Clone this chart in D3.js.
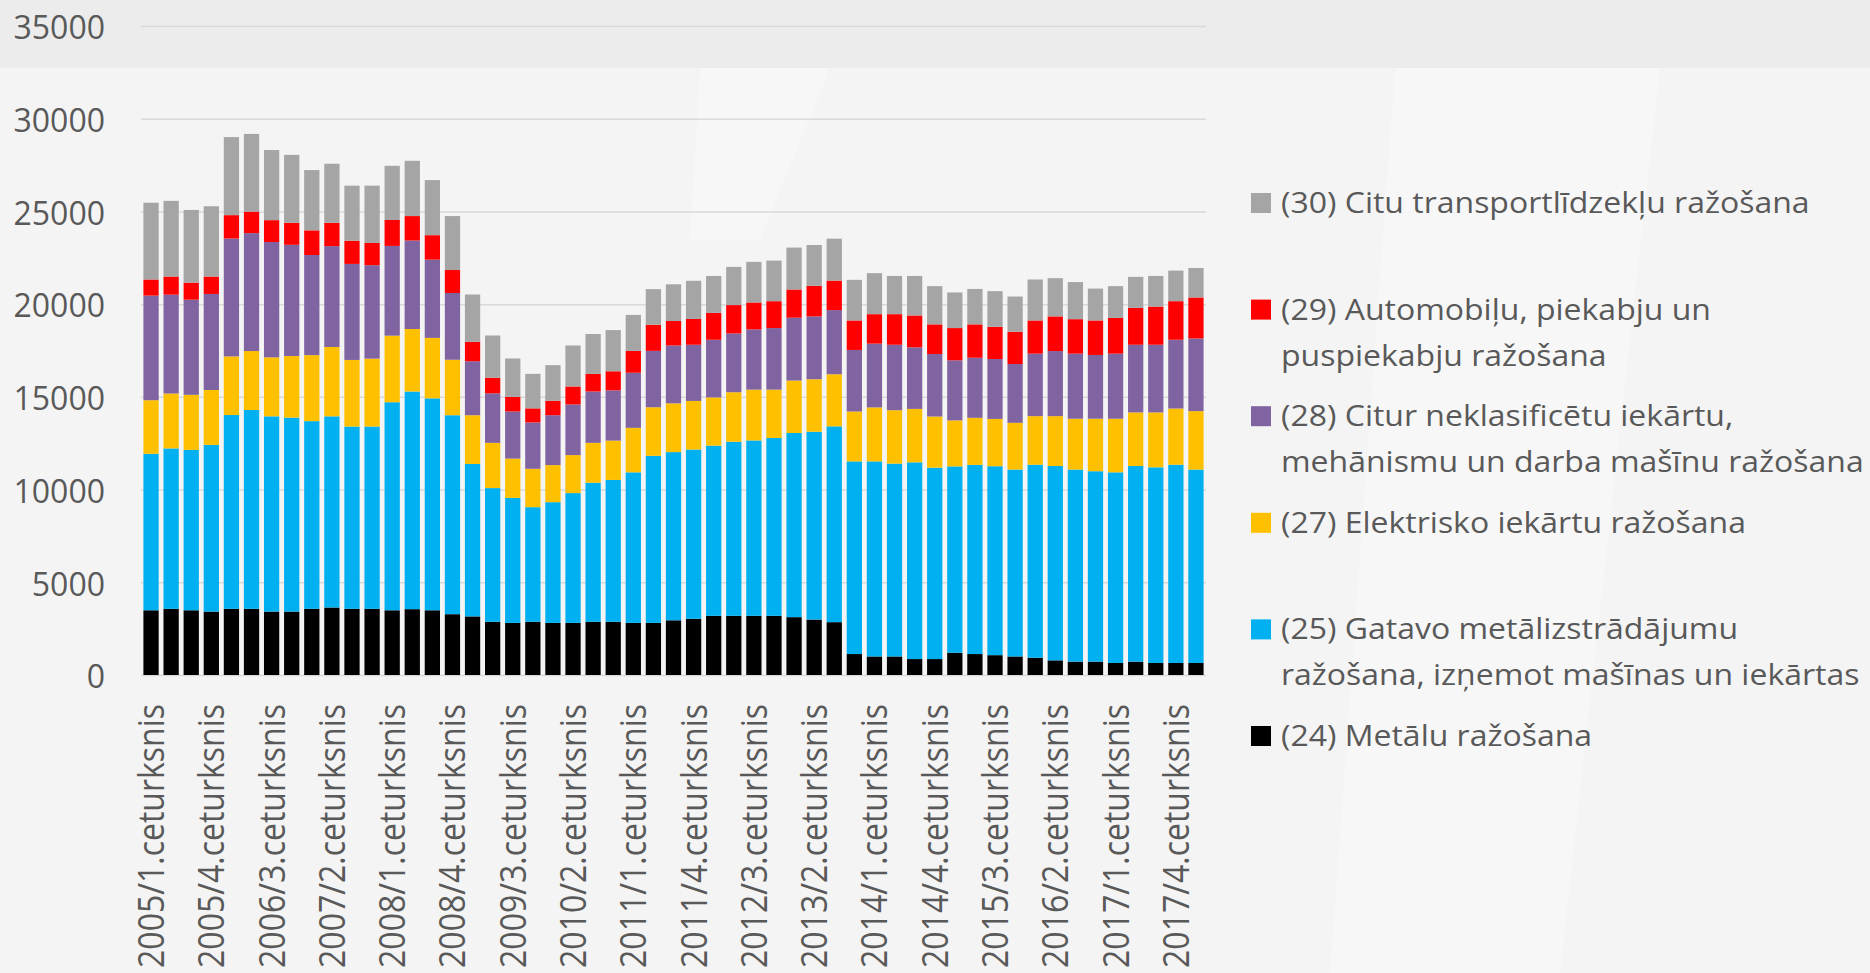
<!DOCTYPE html>
<html>
<head>
<meta charset="utf-8">
<script src="https://cdn.jsdelivr.net/npm/d3@7"></script>
<style>
  body { margin: 0; background: #f4f4f4; }
  svg { display: block; font-family: "Open Sans", sans-serif; }
</style>
</head>
<body>
<div id="chart-area"></div>
<script>

// Data (thousands, bottom segment first)

let quarters = [
  "2005/1","2005/2","2005/3","2005/4","2006/1","2006/2","2006/3","2006/4",
  "2007/1","2007/2","2007/3","2007/4","2008/1","2008/2","2008/3","2008/4",
  "2009/1","2009/2","2009/3","2009/4","2010/1","2010/2","2010/3","2010/4",
  "2011/1","2011/2","2011/3","2011/4","2012/1","2012/2","2012/3","2012/4",
  "2013/1","2013/2","2013/3","2013/4","2014/1","2014/2","2014/3","2014/4",
  "2015/1","2015/2","2015/3","2015/4","2016/1","2016/2","2016/3","2016/4",
  "2017/1","2017/2","2017/3","2017/4","2018/1"
];

let metals = [3490,3570,3490,3420,3570,3570,3420,3420,3570,3640,3570,3570,
  3490,3550,3490,3280,3160,2870,2810,2870,2810,2810,2870,2870,2810,2810,2950,3030,
  3190,3190,3190,3190,3120,2990,2850,1130,1000,1000,860,860,1200,1130,1070,1000,
  930,790,720,720,650,720,650,650,650];

let fabricated = [8440,8650,8650,8990,10450,10720,10530,10460,10120,10310,9830,9830,
  11220,11740,11430,10730,8220,7210,6740,6180,6510,7000,7500,7650,8120,9010,9070,9130,
  9180,9390,9460,9590,9930,10130,10560,10390,10520,10400,10610,10320,10050,10200,10190,10080,
  10410,10480,10360,10270,10280,10550,10550,10690,10430];

let electrical = [2890,2960,2970,2960,3160,3180,3180,3320,3560,3740,3590,3660,
  3590,3370,3260,2990,2630,2440,2120,2070,2000,2050,2150,2120,2400,2620,2630,2620,
  2600,2670,2740,2610,2830,2830,2810,2690,2910,2880,2880,2760,2480,2540,2550,2520,
  2620,2690,2740,2830,2890,2890,2960,3030,3150];

let machinery = [5640,5330,5130,5180,6360,6360,6220,6000,5400,5440,5180,5040,
  4840,4770,4220,3600,2910,2670,2540,2500,2690,2730,2770,2710,2970,3040,3120,3030,
  3110,3170,3250,3320,3390,3390,3460,3320,3440,3530,3320,3370,3240,3240,3230,3170,
  3370,3510,3510,3440,3510,3650,3650,3710,3920];

let motor = [870,980,920,940,1260,1160,1180,1190,1330,1260,1250,1200,
  1400,1320,1320,1240,1050,840,790,760,780,970,950,1030,1180,1410,1320,1390,
  1450,1530,1450,1450,1520,1650,1590,1590,1590,1650,1720,1600,1740,1800,1740,1740,
  1790,1870,1860,1860,1930,1990,2060,2080,2210];

let transport = [4140,4080,3920,3790,4210,4190,3780,3660,3250,3180,2970,3090,
  2920,2980,2970,2910,2550,2280,2070,1860,1920,2210,2150,2220,1940,1920,1980,2060,
  1990,2060,2190,2190,2260,2200,2260,2190,2210,2060,2130,2060,1920,1910,1920,1900,
  2210,2060,2000,1720,1710,1670,1650,1650,1590];

let seriesKeys = ["s24", "s25", "s27", "s28", "s29", "s30"];
let seriesColors = ["#000000", "#00b0f0", "#ffc000", "#8064a2", "#ff0000", "#a5a5a5"];
let seriesLabels = [
  ["(24) Metālu ražošana"],
  ["(25) Gatavo metālizstrādājumu", "ražošana, izņemot mašīnas un iekārtas"],
  ["(27) Elektrisko iekārtu ražošana"],
  ["(28) Citur neklasificētu iekārtu,", "mehānismu un darba mašīnu ražošana"],
  ["(29) Automobiļu, piekabju un", "puspiekabju ražošana"],
  ["(30) Citu transportlīdzekļu ražošana"]
];

let yTicks = [0, 5000, 10000, 15000, 20000, 25000, 30000, 35000];

// table for d3.stack
let table = quarters.map(function(q, i) {
  return {q: q, s24: metals[i], s25: fabricated[i], s27: electrical[i],
          s28: machinery[i], s29: motor[i], s30: transport[i]};
});

// SVG drawing area

let W = 1870, H = 973;
let plotLeft = 141, plotRight = 1206, plotTop = 26, plotBottom = 675;

let svg = d3.select("#chart-area").append("svg")
    .attr("width", W)
    .attr("height", H);

// background
svg.append("rect").attr("width", W).attr("height", H).attr("fill", "#f4f4f4");
svg.append("rect").attr("width", W).attr("height", 68).attr("fill", "#ececec");
let stripes = [
  [[1395,68],[1660,68],[1560,973],[1330,973]],
  [[700,68],[830,68],[760,240],[690,240]]
];
svg.selectAll(".stripe").data(stripes).enter().append("polygon")
    .attr("class", "stripe")
    .attr("points", d => d.map(p => p.join(",")).join(" "))
    .attr("fill", "#ffffff")
    .attr("opacity", 0.3);

// Scales

let x = d3.scaleBand()
    .domain(quarters)
    .range([plotLeft, plotRight])
    .paddingInner(0.24)
    .paddingOuter(0.12);

let y = d3.scaleLinear()
    .domain([0, 35000])
    .range([plotBottom, plotTop]);

// Axes

let yAxis = d3.axisLeft(y)
    .tickValues(yTicks)
    .tickSizeInner(-(plotRight - plotLeft))
    .tickSizeOuter(0)
    .tickPadding(36)
    .tickFormat(d3.format("d"));

let yAxisG = svg.append("g")
    .attr("class", "y-axis axis")
    .attr("transform", "translate(" + plotLeft + ",0)")
    .call(yAxis);

yAxisG.select(".domain").remove();
yAxisG.selectAll("line").attr("stroke", "#d9d9d9").attr("stroke-width", 1.5);
yAxisG.selectAll("text")
    .attr("fill", "#595959")
    .attr("dy", "0.4em")
    .style("font-size", "32px")
    .style("font-family", "'Open Sans', sans-serif");

// Bars

let stack = d3.stack().keys(seriesKeys);
let layers = stack(table);

svg.selectAll(".layer")
    .data(layers)
  .enter().append("g")
    .attr("class", "layer")
    .attr("fill", (d, i) => seriesColors[i])
  .selectAll("rect")
    .data(d => d)
  .enter().append("rect")
    .attr("x", d => x(d.data.q))
    .attr("width", x.bandwidth())
    .attr("y", d => y(d[1]))
    .attr("height", d => y(d[0]) - y(d[1]));

// x labels, every third quarter

let xAxis = d3.axisBottom(x)
    .tickValues(quarters.filter((q, i) => i % 3 === 0))
    .tickSize(0)
    .tickFormat(q => q + ".ceturksnis");

let xAxisG = svg.append("g")
    .attr("class", "x-axis axis")
    .attr("transform", "translate(0," + plotBottom + ")")
    .call(xAxis);

xAxisG.select(".domain").remove();
xAxisG.selectAll(".tick text")
    .attr("fill", "#595959")
    .style("font-size", "32px")
    .style("font-family", "'Open Sans', sans-serif")
    .attr("text-anchor", "end")
    .attr("x", 0)
    .attr("y", 0)
    .attr("dy", "0.36em")
    .attr("transform", "translate(0,29) scale(1.13,1) rotate(-90)");

// Legend (top item first)

let legendOrder = [5, 4, 3, 2, 1, 0];
let legend = svg.append("g").attr("class", "legend");

legendOrder.forEach(function(s, i) {
  let cy = 203 + 106.6 * i;
  legend.append("rect")
      .attr("x", 1251)
      .attr("y", cy - 10)
      .attr("width", 20)
      .attr("height", 20)
      .attr("fill", seriesColors[s]);
  let t = legend.append("text")
      .attr("transform", "translate(1281," + cy + ") scale(1.115,1)")
      .attr("fill", "#595959")
      .style("font-size", "28.7px");
  seriesLabels[s].forEach(function(line, j) {
    t.append("tspan")
        .attr("x", 0)
        .attr("y", j * 46)
        .attr("dy", "0.35em")
        .text(line);
  });
});

</script>
</body>
</html>
